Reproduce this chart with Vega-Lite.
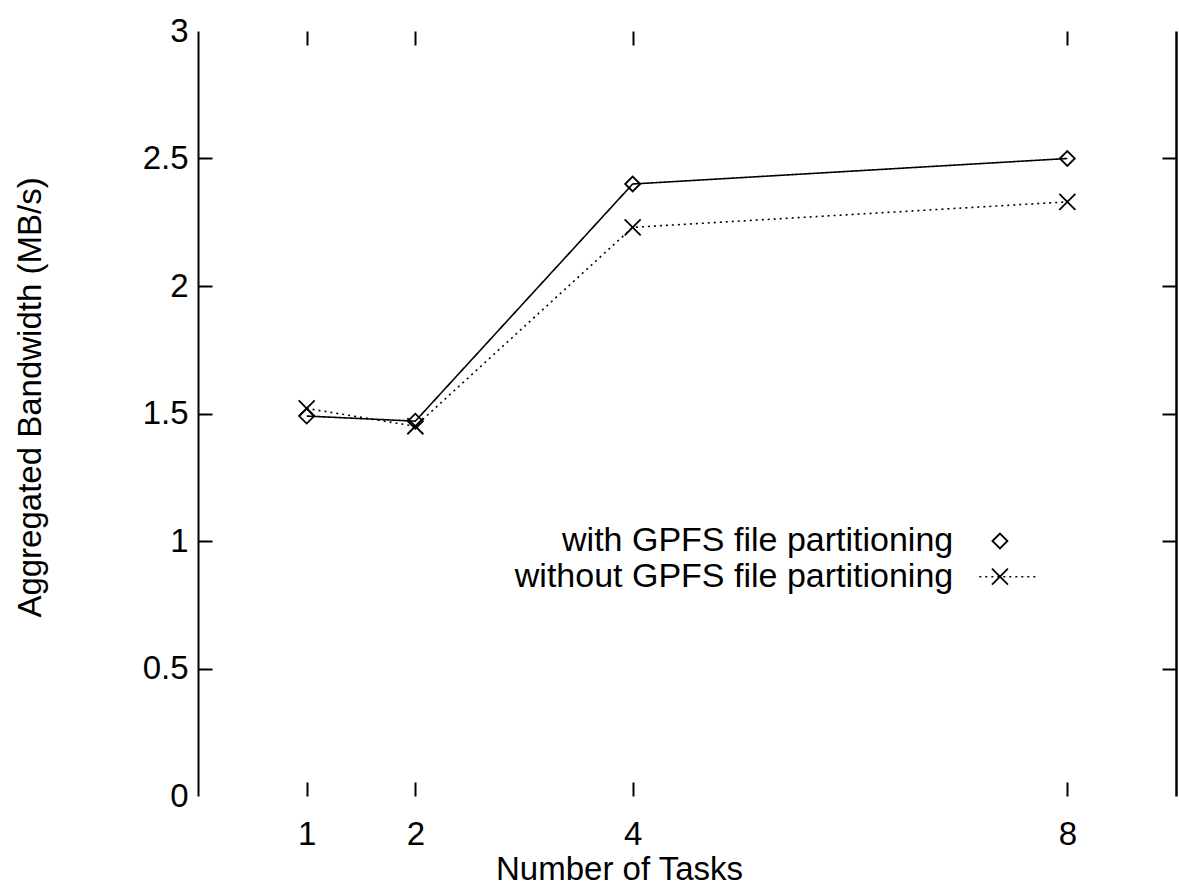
{
  "$schema": "https://vega.github.io/schema/vega-lite/v6.json",
  "width": 978,
  "height": 765,
  "autosize": {"type": "none"},
  "padding": {"left": 198, "top": 31, "right": 3, "bottom": 91},
  "background": "white",
  "config": {
    "view": {"stroke": null},
    "font": "Liberation Sans",
    "axis": {
      "labelFont": "Liberation Sans",
      "titleFont": "Liberation Sans",
      "labelFontSize": 33,
      "titleFontSize": 33,
      "titleFontWeight": "normal",
      "labelColor": "black",
      "titleColor": "black",
      "domainColor": "black",
      "tickColor": "black",
      "grid": false,
      "labelFlush": false,
      "labelOverlap": false
    }
  },
  "datasets": {
    "series": [
      {"tasks": 1, "bw": 1.49, "series": "with"},
      {"tasks": 2, "bw": 1.47, "series": "with"},
      {"tasks": 4, "bw": 2.40, "series": "with"},
      {"tasks": 8, "bw": 2.50, "series": "with"},
      {"tasks": 1, "bw": 1.52, "series": "without"},
      {"tasks": 2, "bw": 1.45, "series": "without"},
      {"tasks": 4, "bw": 2.23, "series": "without"},
      {"tasks": 8, "bw": 2.33, "series": "without"}
    ],
    "legend": [
      {"lx": 6.95, "sx": 7.38, "ly": 1.0, "label": "with GPFS file partitioning", "series": "with"},
      {"lx": 6.95, "sx": 7.38, "ly": 0.86, "label": "without GPFS file partitioning", "series": "without"}
    ],
    "legendline": [{"x1": 7.19, "x2": 7.72, "ly": 0.86}]
  },
  "resolve": {"axis": {"x": "independent", "y": "independent"}},
  "layer": [
    {
      "data": {"name": "series"},
      "mark": {"type": "line", "color": "black", "strokeWidth": 1.6},
      "encoding": {
        "x": {
          "field": "tasks", "type": "quantitative",
          "scale": {"domain": [0, 9], "nice": false, "zero": false},
          "axis": {
            "orient": "bottom", "values": [1, 2, 4, 8], "domain": false,
            "tickSize": -14, "tickWidth": 2, "labelPadding": 36,
            "title": "Number of Tasks", "titleX": 421, "titleY": 90,
            "titleBaseline": "bottom", "titleAlign": "center"
          }
        },
        "y": {
          "field": "bw", "type": "quantitative",
          "scale": {"domain": [0, 3], "nice": false, "zero": false},
          "axis": {
            "orient": "left", "values": [0, 0.5, 1, 1.5, 2, 2.5, 3], "format": "~g", "domain": true,
            "domainWidth": 2, "tickSize": -14, "tickWidth": 2, "labelPadding": 24,
            "tickOpacity": {"condition": {"test": "datum.value == 0 || datum.value == 3", "value": 0}, "value": 1},
            "title": "Aggregated Bandwidth (MB/s)", "titleX": -168, "titleY": 366,
            "titleAngle": -90, "titleAlign": "center", "titleBaseline": "middle"
          }
        },
        "strokeDash": {
          "field": "series", "type": "nominal",
          "scale": {"domain": ["with", "without"], "range": [[1, 0], [2, 4]]},
          "legend": null
        },
        "detail": {"field": "series"}
      }
    },
    {
      "data": {"name": "series"},
      "mark": {"type": "point", "filled": false, "color": "black", "strokeWidth": 1.8, "opacity": 1},
      "encoding": {
        "x": {
          "field": "tasks", "type": "quantitative",
          "scale": {"domain": [0, 9], "nice": false, "zero": false},
          "axis": {
            "orient": "top", "values": [1, 2, 4, 8], "domain": false, "labels": false,
            "tickSize": -14, "tickWidth": 2, "title": null
          }
        },
        "y": {
          "field": "bw", "type": "quantitative",
          "scale": {"domain": [0, 3], "nice": false, "zero": false},
          "axis": {
            "orient": "right", "values": [0.5, 1, 1.5, 2, 2.5], "domain": true,
            "domainWidth": 2.5, "labels": false, "tickSize": -14, "tickWidth": 2, "title": null
          }
        },
        "shape": {
          "field": "series", "type": "nominal",
          "scale": {"domain": ["with", "without"], "range": ["diamond", "M-1,-1L1,1M1,-1L-1,1"]},
          "legend": null
        },
        "size": {
          "field": "series", "type": "nominal",
          "scale": {"domain": ["with", "without"], "range": [225, 256]},
          "legend": null
        }
      }
    },
    {
      "data": {"name": "legendline"},
      "mark": {"type": "rule", "color": "black", "strokeWidth": 1.6, "strokeDash": [2, 4]},
      "encoding": {
        "x": {"field": "x1", "type": "quantitative", "scale": {"domain": [0, 9], "nice": false, "zero": false}, "axis": null},
        "x2": {"field": "x2"},
        "y": {"field": "ly", "type": "quantitative", "scale": {"domain": [0, 3], "nice": false, "zero": false}, "axis": null}
      }
    },
    {
      "data": {"name": "legend"},
      "mark": {"type": "point", "filled": false, "color": "black", "strokeWidth": 1.8, "opacity": 1},
      "encoding": {
        "x": {"field": "sx", "type": "quantitative", "scale": {"domain": [0, 9], "nice": false, "zero": false}, "axis": null},
        "y": {"field": "ly", "type": "quantitative", "scale": {"domain": [0, 3], "nice": false, "zero": false}, "axis": null},
        "shape": {"field": "series", "type": "nominal", "legend": null},
        "size": {"field": "series", "type": "nominal", "legend": null}
      }
    },
    {
      "data": {"name": "legend"},
      "mark": {"type": "text", "align": "right", "baseline": "middle", "font": "Liberation Sans", "fontSize": 34, "color": "black"},
      "encoding": {
        "x": {"field": "lx", "type": "quantitative", "scale": {"domain": [0, 9], "nice": false, "zero": false}, "axis": null},
        "y": {"field": "ly", "type": "quantitative", "scale": {"domain": [0, 3], "nice": false, "zero": false}, "axis": null},
        "text": {"field": "label"}
      }
    }
  ]
}
